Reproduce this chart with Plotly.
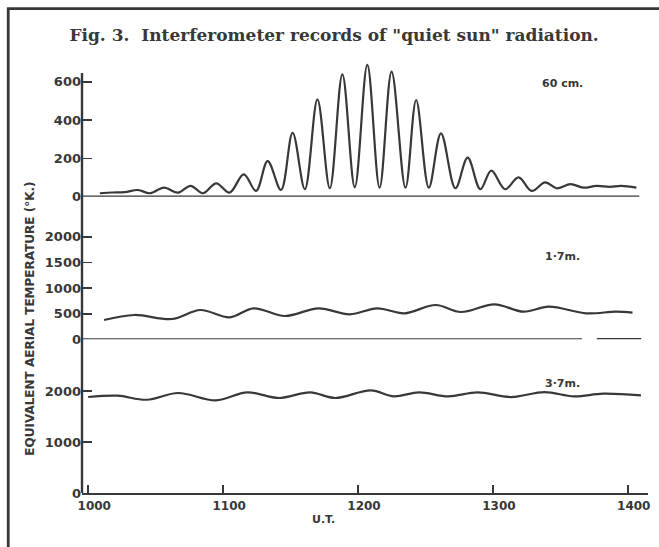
import plotly.graph_objects as go

# ---- data ----
ut_60cm = [1008.6, 1018, 1027, 1036.9, 1045.6, 1056.2, 1066.5, 1075.9, 1085.0, 1094.9,
           1104.7, 1115.3, 1124.4, 1133.0, 1142.9, 1151.5, 1160.6, 1169.9, 1179.1, 1188.4,
           1197.6, 1206.9, 1216.0, 1224.9, 1235.2, 1243.1, 1252.5, 1261.5, 1272.2, 1281.3,
           1290.7, 1298.8, 1309.1, 1319.0, 1328.8, 1338.7, 1347.3, 1357.6, 1367.0, 1376.8,
           1386.7, 1395.3, 1406.4]
temp_60cm = [18, 22, 24, 35, 18, 47, 21, 57, 18, 70,
             21, 117, 30, 186, 35, 334, 39, 508, 44, 639,
             49, 688, 47, 653, 47, 505, 47, 331, 44, 204,
             39, 136, 39, 101, 30, 75, 44, 66, 47, 56,
             51, 56, 47]

ut_17m = [1011.7, 1034.1, 1062.1, 1083.1, 1104.9, 1122.6, 1145.8, 1170.7, 1193.9, 1214.2,
          1234.4, 1257.6, 1276.2, 1301.1, 1322.8, 1341.4, 1369.3, 1391.1, 1403.5]
temp_17m = [377, 475, 396, 572, 430, 605, 455, 605, 488, 605,
            508, 670, 533, 683, 539, 637, 508, 539, 520]

ut_37m = [999.9, 1021.6, 1043.4, 1066.7, 1094.6, 1117.9, 1141.2, 1164.5, 1183.1, 1209.5,
          1226.6, 1245.2, 1266.9, 1288.7, 1313.5, 1338.3, 1360.0, 1381.7, 1409.8]
temp_37m = [1882, 1908, 1829, 1961, 1816, 1973, 1863, 1973, 1863, 2012,
            1895, 1973, 1895, 1973, 1882, 1980, 1895, 1947, 1914]

x_ticks = [1000, 1100, 1200, 1300, 1400]
y_ticks_60cm = [0, 200, 400, 600]
y_ticks_17m = [0, 500, 1000, 1500, 2000]
y_ticks_37m = [0, 1000, 2000]

title_text = 'Fig. 3.  Interferometer records of "quiet sun" radiation.'
y_title = "EQUIVALENT AERIAL TEMPERATURE (°K.)"
labels = ["60 cm.", "1·7m.", "3·7m."]

INK = "#383838"
SANS = "DejaVu Sans"

fig = go.Figure()
line = dict(color=INK, width=2.2, shape="spline", smoothing=1.0)
fig.add_trace(go.Scatter(x=ut_60cm, y=temp_60cm, mode="lines", line=line, xaxis="x", yaxis="y",
                         hoverinfo="skip"))
fig.add_trace(go.Scatter(x=ut_17m, y=temp_17m, mode="lines", line=line, xaxis="x2", yaxis="y2",
                         hoverinfo="skip"))
fig.add_trace(go.Scatter(x=ut_37m, y=temp_37m, mode="lines", line=line, xaxis="x3", yaxis="y3",
                         hoverinfo="skip"))

xr = [995.35, 1415]
tickfont = dict(family=SANS, size=13, color=INK, weight="bold")

def xax(anchor, show_ticks):
    d = dict(domain=[0, 1], anchor=anchor, range=xr, showgrid=False, zeroline=False,
             fixedrange=True, showspikes=False)
    if show_ticks:
        d.update(showline=True, linecolor=INK, linewidth=2.2,
                 tickmode="array", tickvals=x_ticks, ticktext=[str(v) for v in x_ticks],
                 ticks="inside", ticklen=8, tickwidth=1.8, tickcolor=INK,
                 tickfont=dict(family=SANS, size=12, color=INK, weight="bold"),
                 ticklabelshift=6)
    else:
        d.update(showline=False, showticklabels=False, ticks="")
    return d

def yax(anchor, dom, rng, tv):
    return dict(domain=dom, anchor=anchor, range=rng, tickmode="array", tickvals=tv,
                ticktext=[str(v) for v in tv], ticks="inside", ticklen=10, tickwidth=1.8,
                tickcolor=INK, tickfont=tickfont, showline=False, showgrid=False,
                zeroline=False, fixedrange=True, showspikes=False)

fig.update_layout(
    width=659, height=547,
    margin=dict(l=82, r=9, t=55, b=54),
    paper_bgcolor="white", plot_bgcolor="white",
    showlegend=False,
    hovermode=False,
    xaxis=xax("y", False),
    xaxis2=xax("y2", False),
    xaxis3=xax("y3", True),
    yaxis=yax("x", [0.6765, 1.0], [0, 740], y_ticks_60cm),
    yaxis2=yax("x2", [0.3509, 0.6765], [0, 2785], y_ticks_17m),
    yaxis3=yax("x3", [0.0, 0.3509], [0, 3014], y_ticks_37m),
    title=dict(text="<b>" + title_text + "</b>", x=0.507, xanchor="center",
               y=1 - 35 / 547, yanchor="middle", yref="container",
               font=dict(family="DejaVu Serif", size=17, color=INK)),
)

# continuous y axis line
fig.add_shape(type="line", xref="paper", yref="paper", x0=0, x1=0, y0=0, y1=0.959,
              line=dict(color=INK, width=2.4))
# zero lines of the two upper records
fig.add_shape(type="line", xref="x", yref="y", x0=xr[0], x1=1408.5, y0=0, y1=0,
              line=dict(color=INK, width=2.2))
fig.add_shape(type="line", xref="x2", yref="y2", x0=xr[0], x1=1366, y0=0, y1=0,
              line=dict(color=INK, width=2.2))
fig.add_shape(type="line", xref="x2", yref="y2", x0=1377, x1=1410, y0=0, y1=0,
              line=dict(color=INK, width=2.6))
# frame: its right and bottom sides fall outside the page
fig.add_shape(type="rect", xref="paper", yref="paper",
              x0=-0.1303, y0=-0.3, x1=1.2, y1=1.106,
              line=dict(color=INK, width=2.8), fillcolor="rgba(0,0,0,0)")

# panel labels
for txt, yy in zip(labels, [0.9354, 0.5395, 0.2505]):
    fig.add_annotation(text="<b>" + txt + "</b>", x=0.8486, y=yy, xref="paper", yref="paper",
                       showarrow=False, xanchor="center", yanchor="middle",
                       font=dict(family=SANS, size=11, color=INK))

fig.add_annotation(text="<b>" + y_title + "</b>", x=-0.0933, y=0.3984, xref="paper",
                   yref="paper", showarrow=False, textangle=-90, xanchor="center",
                   yanchor="middle", font=dict(family=SANS, size=12, color=INK))
fig.add_annotation(text="<b>U.T.</b>", x=0.426, y=-0.0616, xref="paper", yref="paper",
                   showarrow=False, xanchor="center", yanchor="middle",
                   font=dict(family=SANS, size=11, color=INK))

fig.write_html("out.html", config={"displayModeBar": False, "staticPlot": True},
               post_script="document.documentElement.style.overflow='hidden';"
                           "document.body.style.margin='0';document.body.style.padding='0';"
                           "document.body.style.overflow='hidden';")
